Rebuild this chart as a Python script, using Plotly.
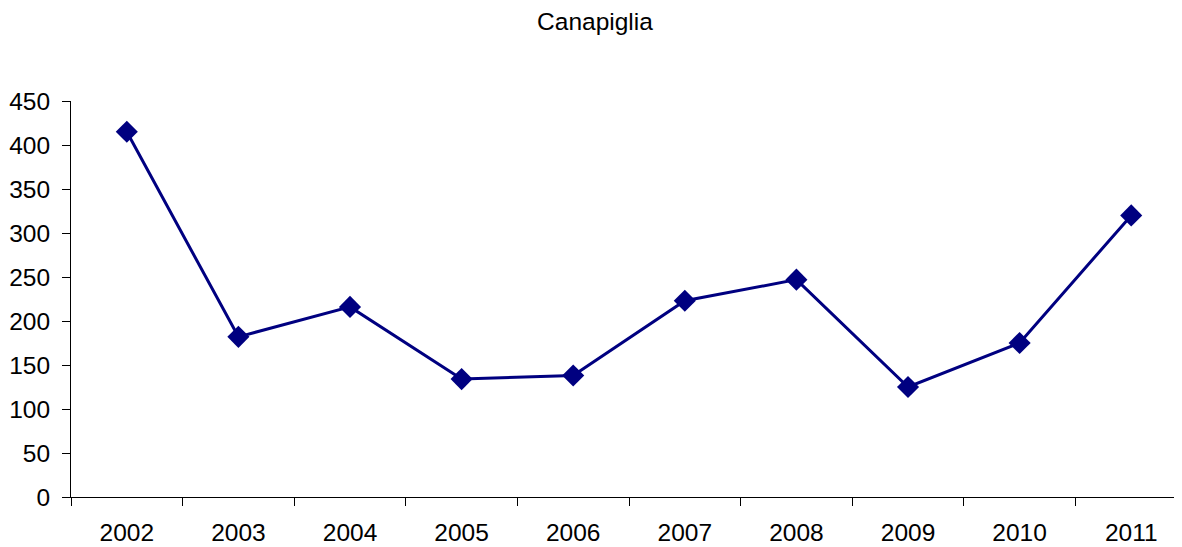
import plotly.graph_objects as go

years = ["2002", "2003", "2004", "2005", "2006", "2007", "2008", "2009", "2010", "2011"]
values = [415, 182, 216, 134, 138, 223, 247, 125, 175, 320]
y_ticks = [0, 50, 100, 150, 200, 250, 300, 350, 400, 450]

navy = "#000080"
font = dict(family="Liberation Sans, Arial, sans-serif", size=24.5, color="#000000")

fig = go.Figure(
    go.Scatter(
        x=years, y=values, mode="lines+markers",
        line=dict(color=navy, width=3),
        marker=dict(symbol="diamond", size=17, color=navy),
    )
)

# page body has an 8px margin, so the figure is 8px smaller than the window
fig.update_layout(
    width=1174, height=539,
    margin=dict(l=63, r=0, t=93, b=50),
    paper_bgcolor="white", plot_bgcolor="white",
    showlegend=False,
    font=font,
    title=dict(text="Canapiglia", x=0.5, xanchor="center", y=1 - 13 / 539, yanchor="middle",
               xref="container", font=dict(size=24.5)),
)
fig.update_xaxes(
    type="category", range=[-0.5, 9.455],
    showline=True, linecolor="#000000", linewidth=1,
    ticks="outside", tickson="boundaries", ticklen=8, tickcolor="#000000",
    showgrid=False, zeroline=False, tickfont=font, ticklabelstandoff=14,
)
fig.update_yaxes(
    range=[0, 450], tickvals=y_ticks,
    showline=True, linecolor="#000000", linewidth=1,
    ticks="outside", ticklen=8, tickcolor="#000000",
    showgrid=False, zeroline=False, tickfont=font, ticklabelstandoff=7,
)

fig.write_html("out.html")
